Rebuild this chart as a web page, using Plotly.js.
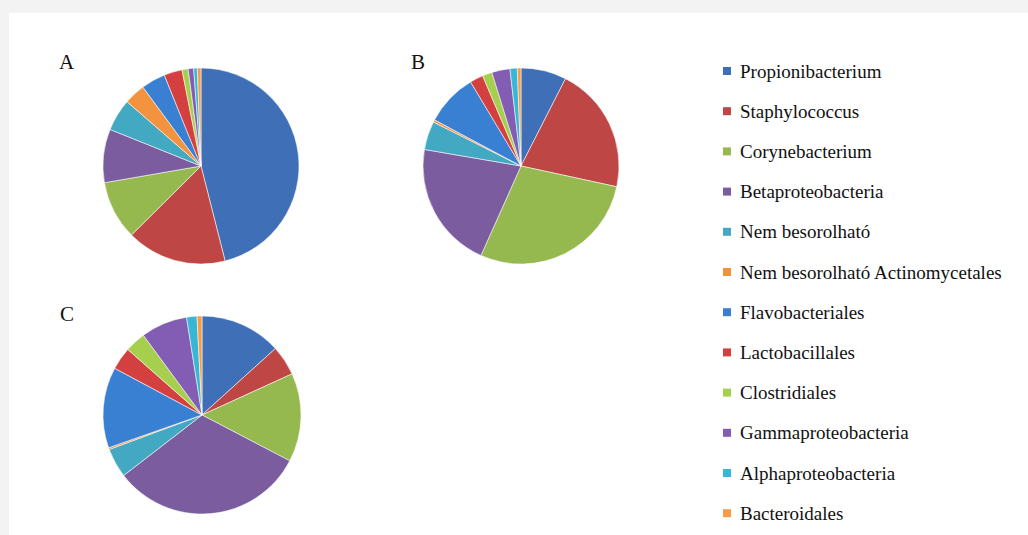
<!DOCTYPE html>
<html>
<head>
<meta charset="utf-8">
<script src="https://cdn.plot.ly/plotly-3.0.1.min.js"></script>
<style>
  html, body { margin: 0; padding: 0; background: #f3f3f3; }
  #chart { width: 1028px; height: 535px; }
</style>
</head>
<body>
<div id="chart"></div>
<script>
// Bacterial groups (shared legend order)
const categories = [
  "Propionibacterium",
  "Staphylococcus",
  "Corynebacterium",
  "Betaproteobacteria",
  "Nem besorolható",
  "Nem besorolható Actinomycetales",
  "Flavobacteriales",
  "Lactobacillales",
  "Clostridiales",
  "Gammaproteobacteria",
  "Alphaproteobacteria",
  "Bacteroidales"
];

// Relative abundance (%) per sample
const valuesA = [46.0, 16.5, 9.7, 8.8, 5.3, 3.5, 4.0, 3.0, 1.0, 0.9, 0.6, 0.6];
const valuesB = [7.5, 20.9, 28.3, 21.0, 4.7, 0.4, 8.6, 2.2, 1.6, 3.0, 1.2, 0.6];
const valuesC = [13.3, 4.9, 14.5, 31.9, 4.8, 0.3, 13.2, 3.7, 3.4, 7.6, 1.7, 0.8];

const panelLabels = ["A", "B", "C"];

const colors = [
  "#3f6fb6", "#be4745", "#95b84f", "#7b5d9f", "#43a8c2", "#f3923f",
  "#3a80d2", "#d43f3f", "#a5cf4c", "#825db3", "#38b6d6", "#f79c45"
];

const W = 1028, H = 535;
const serif = "Liberation Serif, Times New Roman, serif";

// pie placement in pixels: center x, center y, radius
const pies = [
  { values: valuesA, cx: 201, cy: 166, r: 98 },
  { values: valuesB, cx: 521, cy: 166, r: 98 },
  { values: valuesC, cx: 202, cy: 415, r: 99 }
];

const traces = pies.map(p => ({
  type: "pie",
  labels: categories,
  values: p.values,
  sort: false,
  direction: "clockwise",
  rotation: 0,
  textinfo: "none",
  textposition: "inside",
  hoverinfo: "label+percent",
  showlegend: false,
  marker: { colors: colors, line: { color: "rgba(255,255,255,0.55)", width: 1 } },
  domain: {
    x: [(p.cx - p.r) / W, (p.cx + p.r) / W],
    y: [(H - p.cy - p.r) / H, (H - p.cy + p.r) / H]
  }
}));

// panel letters
const labelPos = [[67, 62], [418, 62], [67, 314]];
const annotations = panelLabels.map((t, i) => ({
  text: t, xref: "paper", yref: "paper",
  x: labelPos[i][0] / W, y: 1 - labelPos[i][1] / H,
  xanchor: "center", yanchor: "middle", showarrow: false,
  font: { family: serif, size: 21, color: "#111" }
}));

// white plotting card on light grey frame
const shapes = [{
  type: "rect", xref: "paper", yref: "paper",
  x0: 9 / W, x1: 1, y0: 0, y1: 1 - 13 / H,
  fillcolor: "#ffffff", line: { width: 0 }, layer: "below"
}];

// legend: squares + names
const legX = 727, legY0 = 71, legStep = 40.2;
categories.forEach((name, i) => {
  const y = legY0 + i * legStep;
  shapes.push({
    type: "rect", xref: "paper", yref: "paper",
    x0: (legX - 4) / W, x1: (legX + 4) / W,
    y0: 1 - (y + 4) / H, y1: 1 - (y - 4) / H,
    fillcolor: colors[i], line: { width: 0 }
  });
  annotations.push({
    text: name, xref: "paper", yref: "paper",
    x: (legX + 11) / W, y: 1 - y / H,
    xanchor: "left", yanchor: "middle", showarrow: false,
    font: { family: serif, size: 19, color: "#111" }
  });
});

const layout = {
  width: W, height: H,
  margin: { l: 0, r: 0, t: 0, b: 0 },
  paper_bgcolor: "#f3f3f3",
  plot_bgcolor: "#ffffff",
  showlegend: false,
  annotations: annotations,
  shapes: shapes
};

Plotly.newPlot("chart", traces, layout, { displayModeBar: false, staticPlot: true });
</script>
</body>
</html>
